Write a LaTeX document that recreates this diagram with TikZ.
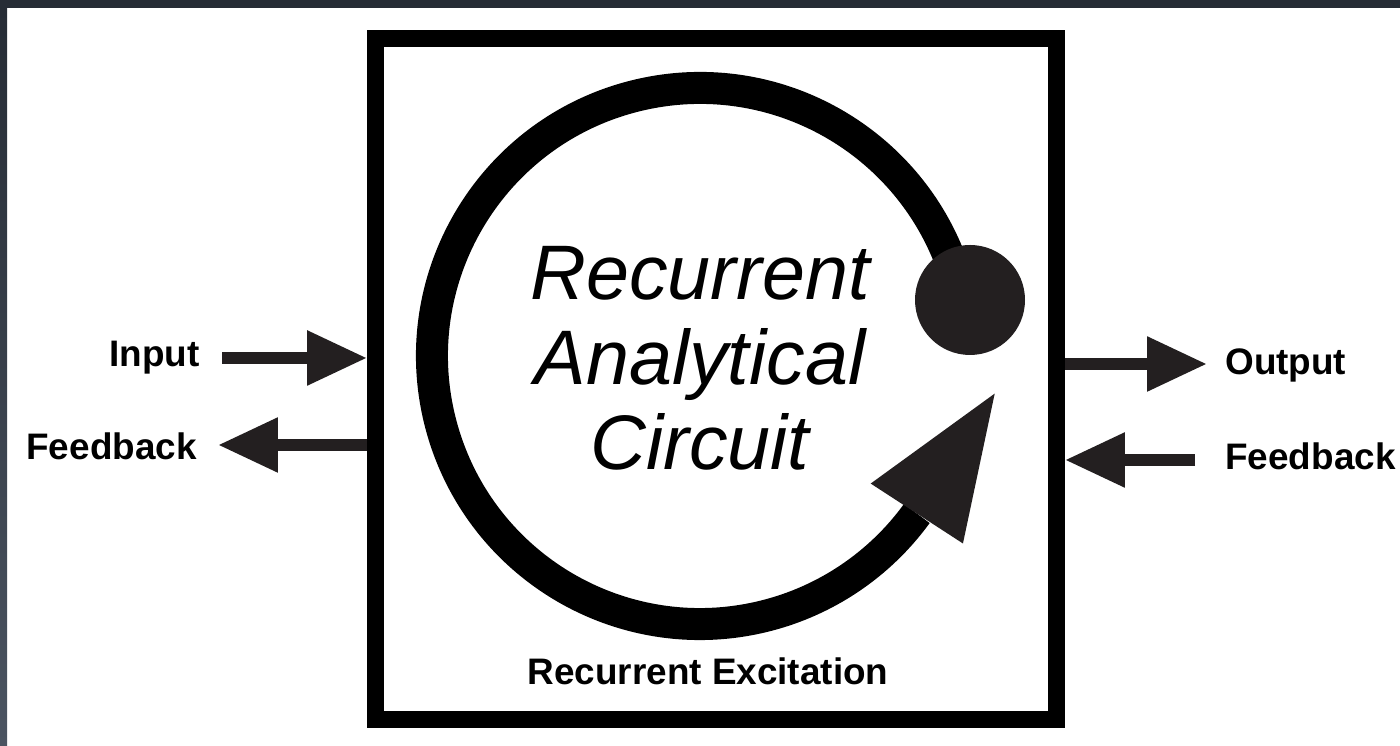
\documentclass[tikz,border=0pt]{standalone}
\usepackage{fontspec}
\setsansfont{Liberation Sans}
\usetikzlibrary{arrows.meta,calc}
\definecolor{framedark}{HTML}{262C35}
\definecolor{framelight}{HTML}{4B5461}
\definecolor{headgray}{HTML}{231F20}

\begin{document}
\begin{tikzpicture}[x=0.02cm,y=0.02cm,
    flow/.style={line width=0.24cm,headgray,-{Triangle[length=1.2cm,width=1.04cm]}},
    sidelabel/.style={font=\sffamily\bfseries\fontsize{21}{25}\selectfont,inner sep=0pt}]
    \useasboundingbox (0,0) rectangle (1400,746);
    \fill[white] (0,0) rectangle (1400,746);
    \fill[framedark] (0,738) rectangle (1400,746);
    \shade[top color=framedark,bottom color=framelight] (0,0) rectangle (7,738);
    \node[draw,line width=0.34cm,minimum width=13.62cm,minimum height=13.62cm] (circuit) at (716,367) {};
    % the recurrent loop
    \draw[line width=0.64cm] (700,390) ++(14:268) arc[start angle=14,end angle=324,radius=268];
    \fill[headgray] (970,446) circle (55);
    \begin{scope}[shift={($(700,390)+(324:268)$)},rotate=57]
        \fill[headgray] (143,0) -- (0,55) -- (0,-55) -- cycle;
    \end{scope}
    \node[font=\sffamily\itshape\fontsize{44}{48.4}\selectfont,align=center] (title) at (700,388) {Recurrent\\Analytical\\Circuit};
    \node[sidelabel,anchor=base] (excite) at (708,61) {Recurrent Excitation};
    % inputs and outputs
    \node[sidelabel,anchor=base east] (inlabel) at (200,379) {Input};
    \node[sidelabel,anchor=base east] (fbleft) at (197,286) {Feedback};
    \node[sidelabel,anchor=base west] (outlabel) at (1225,371) {Output};
    \node[sidelabel,anchor=base west] (fbright) at (1225,276) {Feedback};
    \coordinate (intail) at (222,388);
    \coordinate (fbleftend) at (218,301);
    \coordinate (outend) at (1207,382);
    \coordinate (fbrighttail) at (1195,286);
    \draw[flow] (intail) -- (intail -| circuit.west);
    \draw[flow] (fbleftend -| circuit.west) -- (fbleftend);
    \draw[flow] (outend -| circuit.east) -- (outend);
    \draw[flow] (fbrighttail) -- (fbrighttail -| circuit.east);
\end{tikzpicture}
\end{document}
